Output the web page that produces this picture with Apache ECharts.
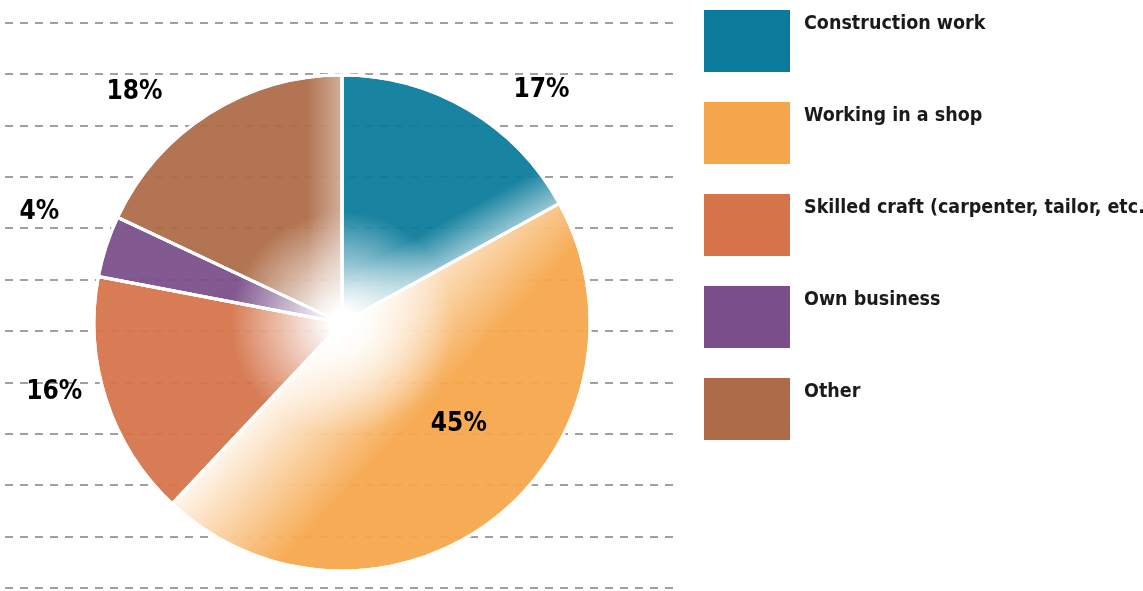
<!DOCTYPE html>
<html><head><meta charset="utf-8">
<script src="https://cdn.jsdelivr.net/npm/echarts@6/dist/echarts.min.js"></script>
<style>html,body{margin:0;padding:0;background:#fff}#c{width:1143px;height:591px}</style>
</head><body><div id="c"></div>
<script>
// ---- data ----
const categories = ['Construction work', 'Working in a shop', 'Skilled craft (carpenter, tailor, etc.)', 'Own business', 'Other'];
const shares = [17, 45, 16, 4, 18];
const guideLineCount = 12;

// ---- styles / layout ----
const palette = ['#0a7b9a', '#f6a64a', '#d5744a', '#7a4f89', '#ad6b47'];
const CX = 342, CY = 323, R = 248;
const FONT = '"DejaVu Sans Condensed","Liberation Sans Narrow",sans-serif';
const labelTweak = [
  { offset: [0, -2] },
  { position: 'inside', offset: [39, 1] },
  { offset: [30, -14] },
  { offset: [7, -28] },
  { offset: [-1, -4] }
];
const edgeFade = [40, 120, 0, 0, 35];
const edgeAlpha = [0.6, 0.95, 0, 0, 0.45];

function radial(c) {
  return { type: 'radial', x: CX, y: CY, r: R, global: true,
    colorStops: [{ offset: 0, color: '#ffffff' }, { offset: 0.05, color: '#ffffff' },
                 { offset: 0.45, color: c }, { offset: 1, color: c }] };
}
const total = shares.reduce((a, b) => a + b, 0);
let cum = 0;
const overlayData = shares.map((v, i) => {
  cum += v;
  const th = cum / total * 2 * Math.PI;
  const nx = -Math.cos(th), ny = -Math.sin(th);
  const d = edgeFade[i];
  return { name: categories[i], value: v, itemStyle: { color: d > 0 ? {
    type: 'linear', global: true, x: CX, y: CY, x2: CX + nx * d, y2: CY + ny * d,
    colorStops: [{ offset: 0, color: 'rgba(255,255,255,' + edgeAlpha[i] + ')' }, { offset: 1, color: 'rgba(255,255,255,0)' }]
  } : 'rgba(255,255,255,0)' } };
});
const baseData = shares.map((v, i) => ({
  name: categories[i], value: v,
  itemStyle: { color: radial(palette[i]) },
  label: labelTweak[i]
}));

const chart = echarts.init(document.getElementById('c'), null, { renderer: 'canvas' });
chart.setOption({
  animation: false,
  backgroundColor: '#ffffff',
  grid: { left: 5, right: 468, top: 22.5, bottom: 3, containLabel: false },
  xAxis: { type: 'value', show: false, min: 0, max: 1 },
  yAxis: {
    type: 'value', min: 0, max: guideLineCount - 1, interval: 1,
    axisLine: { show: false }, axisTick: { show: false }, axisLabel: { show: false },
    splitLine: { show: true, lineStyle: { color: '#a0a0a0', width: 2, type: [8, 7] } }
  },
  legend: {
    orient: 'vertical', left: 704, top: 7, padding: 0,
    itemWidth: 86, itemHeight: 62, itemGap: 24,
    icon: 'rect', selectedMode: false,
    itemStyle: { borderWidth: 0, opacity: 1 },
    formatter: name => name + '\n ',
    textStyle: { fontFamily: FONT, fontWeight: 'bold', fontSize: 19.5, lineHeight: 34, color: '#1a1a1a', padding: [0, 0, 0, 9] },
    data: categories.map((n, i) => ({ name: n, itemStyle: { color: palette[i], borderWidth: 0, opacity: 1 } }))
  },
  series: [
    {
      type: 'pie', center: [CX, CY], radius: R, startAngle: 90, clockwise: true,
      avoidLabelOverlap: false, z: 2,
      itemStyle: { borderColor: '#ffffff', borderWidth: 3, opacity: 0.94 },
      label: { show: true, position: 'outside', formatter: '{c}%', fontFamily: FONT, fontWeight: 'bold', fontSize: 26, color: '#000000', opacity: 1 },
      labelLine: { show: false, length: 20, length2: 30 },
      emphasis: { disabled: true },
      data: baseData
    },
    {
      type: 'pie', center: [CX, CY], radius: R, startAngle: 90, clockwise: true,
      z: 3, silent: true,
      itemStyle: { borderColor: '#ffffff', borderWidth: 3, opacity: 0.94 },
      label: { show: false }, labelLine: { show: false },
      emphasis: { disabled: true },
      data: overlayData
    }
  ]
});
</script></body></html>
